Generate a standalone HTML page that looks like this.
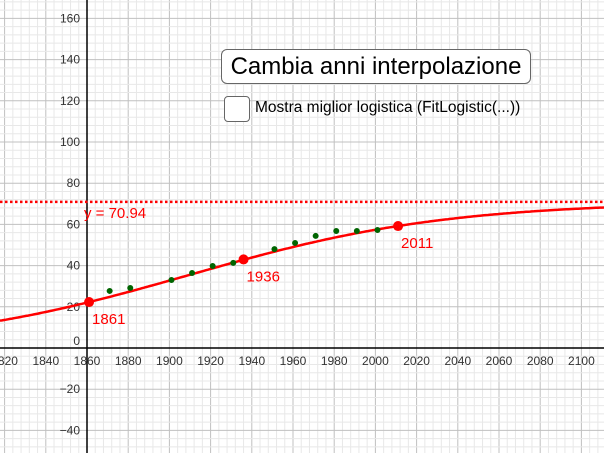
<!DOCTYPE html>
<html><head><meta charset="utf-8"><style>
html,body{margin:0;padding:0;background:#fff;}
#wrap{position:relative;width:604px;height:453px;overflow:hidden;font-family:"Liberation Sans",sans-serif;}
svg{position:absolute;left:0;top:0;}
#btn{position:absolute;left:221px;top:49px;width:308px;height:33px;border:1px solid #666;border-radius:6px;background:#fff;font-size:24px;line-height:33px;text-align:center;color:#000;box-sizing:content-box;}
#cb{position:absolute;left:224px;top:96px;width:24px;height:24px;border:1px solid #666;border-radius:4px;background:#fff;}
#cbl{position:absolute;left:255px;top:99px;font-size:15.5px;color:#000;}
</style></head><body>
<div id="wrap">
<svg id="g" width="604" height="453"></svg>
<div id="btn">Cambia anni interpolazione</div>
<div id="cb"></div>
<div id="cbl">Mostra miglior logistica (FitLogistic(...))</div>
</div>
<script>
const dataYears=[1871,1881,1901,1911,1921,1931,1951,1961,1971,1981,1991,2001];
const dataValues=[27.7,29.1,33,36.4,39.8,41.3,48,51,54.4,56.8,56.8,57.3];
const keyYears=[1861,1936,2011];
const keyValues=[22.3,43,59.2];
const asymptote=70.94;
const logisticA=2.216, logisticB=0.016;
const xTicks=[1820,1840,1860,1880,1900,1920,1940,1960,1980,2000,2020,2040,2060,2080,2100];
const yTicks=[-40,-20,20,40,60,80,100,120,140,160];

const K=2.06, X0=87, Y0=348;
const sx=v=>X0+(v-1860)*K, sy=v=>Y0-v*K;
const svg=document.getElementById('g');
const NS='http://www.w3.org/2000/svg';
function mk(t,a){const e=document.createElementNS(NS,t);for(const k in a)e.setAttribute(k,a[k]);svg.appendChild(e);return e;}
// grid
for(let v=1816;v<=2112;v+=4){const x=sx(v);const l=mk('line',{x1:x,x2:x,y1:0,y2:453,stroke:v%20===0?'#c0c0c0':'#e8e8e8','stroke-width':1});

}
for(let v=-52;v<=172;v+=4){const y=sy(v);const l=mk('line',{x1:0,x2:604,y1:y,y2:y,stroke:v%20===0?'#c0c0c0':'#e8e8e8','stroke-width':1});

}
// axes
const ax=mk('line',{x1:0,x2:604,y1:Y0,y2:Y0,stroke:'#000','stroke-width':1.5});


const ay=mk('line',{x1:X0,x2:X0,y1:0,y2:453,stroke:'#000','stroke-width':1.5});


xTicks.forEach(v=>{const t=mk('text',{x:sx(v),y:Y0+17,'font-size':12,'text-anchor':'middle',fill:'#333','font-family':'Liberation Sans, sans-serif'});t.textContent=v;

});
yTicks.forEach(v=>{const t=mk('text',{x:X0-7,y:sy(v)+4,'font-size':12,'text-anchor':'end',fill:'#333','font-family':'Liberation Sans, sans-serif'});t.textContent=String(v).replace('-','\u2212');

});
const z=mk('text',{x:X0-7,y:Y0-3,'font-size':12,'text-anchor':'end',fill:'#333','font-family':'Liberation Sans, sans-serif'});z.textContent='0';


// asymptote
const as=mk('line',{x1:0,x2:604,y1:sy(asymptote),y2:sy(asymptote),stroke:'#f00','stroke-width':2.5,'stroke-dasharray':'2.5,2.5'});


const at=mk('text',{x:84,y:sy(asymptote)+16,'font-size':15,fill:'#f00','font-family':'Liberation Sans, sans-serif'});at.textContent='y = 70.94';


// logistic curve
let d='';for(let px=0;px<=604;px+=2){const yr=1860+(px-X0)/K;const v=asymptote/(1+logisticA*Math.exp(-logisticB*(yr-1860)));d+=(px?'L':'M')+px+','+sy(v).toFixed(1);}
const c=mk('path',{d:d,fill:'none',stroke:'#f00','stroke-width':2.5});


dataYears.forEach((yr,i)=>{const p=mk('circle',{cx:sx(yr),cy:sy(dataValues[i]),r:3,fill:'#006400'});

});
keyYears.forEach((yr,i)=>{const p=mk('circle',{cx:sx(yr),cy:sy(keyValues[i]),r:5,fill:'#f00'});


const t=mk('text',{x:sx(yr)+3,y:sy(keyValues[i])+22,'font-size':15,fill:'#f00','font-family':'Liberation Sans, sans-serif'});t.textContent=yr;

});
</script>
</body></html>
